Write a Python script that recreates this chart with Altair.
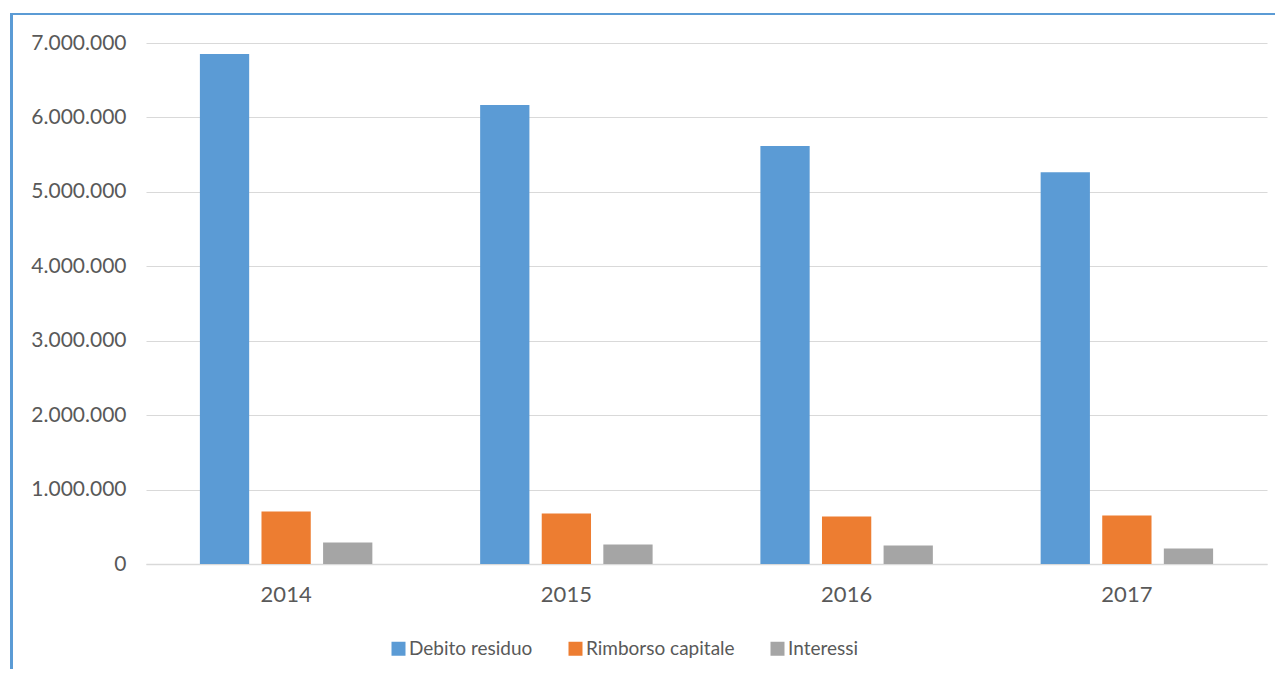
import altair as alt
import pandas as pd

years = ["2014", "2015", "2016", "2017"]
series = ["Debito residuo", "Rimborso capitale", "Interessi"]
debito = [6852000, 6166000, 5615000, 5265000]
rimborso = [706000, 679000, 639000, 652000]
interessi = [289000, 262000, 249000, 208000]
colors = ["#5B9BD5", "#ED7D31", "#A5A5A5"]
y_ticks = [0, 1000000, 2000000, 3000000, 4000000, 5000000, 6000000, 7000000]

rows = []
for i, yr in enumerate(years):
    for s, vals in zip(series, [debito, rimborso, interessi]):
        rows.append({"Anno": yr, "Serie": s, "Valore": vals[i]})
df = pd.DataFrame(rows)

W, H = 1121, 521
FONT = "Lato"
TXT = "#595959"
BORDER = "#5B9BD5"

bars = alt.Chart(df).mark_bar().encode(
    x=alt.X(
        "Anno:N", sort=years,
        scale=alt.Scale(paddingInner=0, paddingOuter=0),
        axis=alt.Axis(title=None, labelAngle=0, labelFontSize=22, labelColor=TXT,
                      labelFont=FONT, labelPadding=20, ticks=False,
                      domainColor="#D9D9D9", domainWidth=1.5),
    ),
    xOffset=alt.XOffset("Serie:N", sort=series,
                        scale=alt.Scale(paddingInner=0.2, paddingOuter=0.875)),
    y=alt.Y(
        "Valore:Q",
        scale=alt.Scale(domain=[0, 7000000], nice=False),
        axis=alt.Axis(title=None, values=y_ticks,
                      labelExpr="replace(format(datum.value, ',d'), regexp(',', 'g'), '.')",
                      labelFontSize=21, labelColor=TXT, labelFont=FONT, labelPadding=20,
                      ticks=False, domain=False, gridColor="#D9D9D9", gridWidth=1.2),
    ),
    color=alt.Color(
        "Serie:N", sort=series,
        scale=alt.Scale(domain=series, range=colors),
        legend=alt.Legend(title=None, orient="none", legendX=243, legendY=596,
                          direction="horizontal", symbolType="square", symbolSize=196,
                          symbolStrokeWidth=0, labelFontSize=19, labelFont=FONT,
                          labelColor=TXT, labelOffset=1, columnPadding=33, padding=0),
    ),
)

frame = pd.DataFrame({"k": [0]})
top_border = alt.Chart(frame).mark_rule(color=BORDER, strokeWidth=2).encode(
    x=alt.value(-135), x2=alt.value(1140), y=alt.value(-29)
)
left_border = alt.Chart(frame).mark_rule(color=BORDER, strokeWidth=3).encode(
    x=alt.value(-134.5), y=alt.value(-30), y2=alt.value(650)
)

chart = alt.layer(bars, top_border, left_border).properties(
    width=W, height=H,
    autosize=alt.AutoSizeParams(type="none"),
    padding={"left": 138, "top": 35, "right": 8, "bottom": 105},
    background="white",
).configure_view(stroke=None)

chart.save("out.html", embed_options={"renderer": "svg", "actions": False})
